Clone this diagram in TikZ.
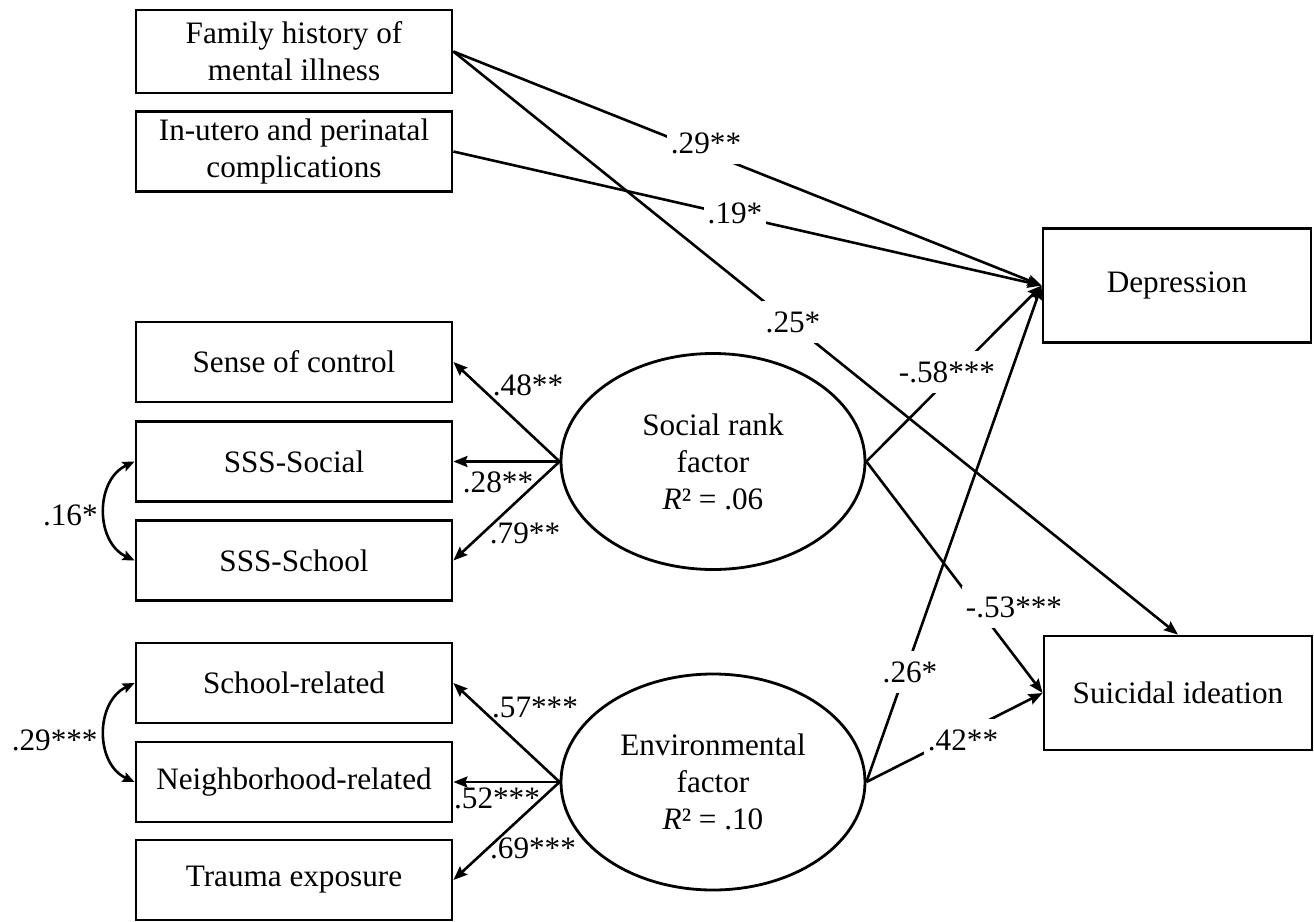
\documentclass[tikz,border=0pt]{standalone}
\usepackage{fontspec}
\setmainfont{Liberation Serif}
\usetikzlibrary{arrows.meta,shapes.geometric}
\begin{document}
\begin{tikzpicture}[x=0.5pt,y=-0.5pt,
  txt/.style={font=\fontsize{15.6}{18.5}\selectfont},
  box/.style={txt, draw, line width=1.4pt, minimum width=158pt, minimum height=40pt, inner sep=0pt, align=center},
  obox/.style={txt, draw, line width=1.4pt, minimum width=134pt, minimum height=57pt, inner sep=0pt, align=center},
  lat/.style={txt, draw, ellipse, line width=1.4pt, minimum width=152pt, minimum height=108pt, inner sep=0pt, align=center},
  arr/.style={line width=1.3pt, -{Stealth[length=7pt,width=5.5pt,inset=1pt]}},
  dbl/.style={line width=1.3pt, {Stealth[length=6pt,width=5pt,inset=1pt]}-{Stealth[length=6pt,width=5pt,inset=1pt]}},
  lw/.style={txt, fill=white, inner xsep=2pt, inner ysep=5pt},
  lp/.style={txt, inner sep=0pt}]
\useasboundingbox (0,0) rectangle (1314,922);
% boxes
\node[box, minimum height=41.5pt] (fam) at (294,51.5) {Family history of\\mental illness};
\node[box] (inu) at (294,151.5) {In-utero and perinatal\\complications};
\node[box] (soc) at (294,362) {Sense of control};
\node[box] (sss1) at (294,461.5) {SSS-Social};
\node[box] (sss2) at (294,560.5) {SSS-School};
\node[box] (schr) at (294,683) {School-related};
\node[box] (nbr) at (294,782) {Neighborhood-related};
\node[box] (trm) at (294,880) {Trauma exposure};
\node[obox] (dep) at (1177,285.5) {Depression};
\node[obox] (sui) at (1178,693) {Suicidal ideation};
\node[lat] (srf) at (713,461.5) {Social rank\\factor\\\textit{R}² = .06};
\node[lat] (env) at (713,782) {Environmental\\factor\\\textit{R}² = .10};
% paths
\draw[arr] (fam.east) -- (dep.west);
\draw[arr] (inu.east) -- (dep.west);
\draw[arr] (fam.east) -- (sui.north);
\draw[arr] (srf.west) -- (soc.east);
\draw[arr] (srf.west) -- (sss1.east);
\draw[arr] (srf.west) -- (sss2.east);
\draw[arr] (env.west) -- (schr.east);
\draw[arr] (env.west) -- (nbr.east);
\draw[arr] (env.west) -- (trm.east);
\draw[arr] (srf.east) -- (dep.west);
\draw[arr] (srf.east) -- (sui.west);
\draw[arr] (env.east) -- (dep.west);
\draw[arr] (env.east) -- (sui.west);
\draw[dbl] (sss1.west) .. controls (95,480) and (95,542) .. (sss2.west);
\draw[dbl] (schr.west) .. controls (95,702) and (95,764) .. (nbr.west);
% labels on lines
\node[lw] (l29) at (706,143) {.29**};
\node[lw] (l19) at (735,213) {.19*};
\node[lw] (l25) at (793,322) {.25*};
\node[lw] (l58) at (947,372) {-.58***};
\node[lw] (l53) at (1014,607) {-.53***};
\node[lw] (l26) at (910,672) {.26*};
\node[lw] (l42) at (963,740) {.42**};
% loading labels
\node[lp] (l48) at (528,385) {.48**};
\node[lp] (l28) at (498,482) {.28**};
\node[lp] (l79) at (525,533) {.79**};
\node[lp] (l57) at (535,707) {.57***};
\node[lp] (l52) at (497,798) {.52***};
\node[lp] (l69) at (533,848) {.69***};
\node[lp, anchor=east] (l16) at (98,515) {.16*};
\node[lp, anchor=east] (l29b) at (98,740) {.29***};
\end{tikzpicture}
\end{document}
